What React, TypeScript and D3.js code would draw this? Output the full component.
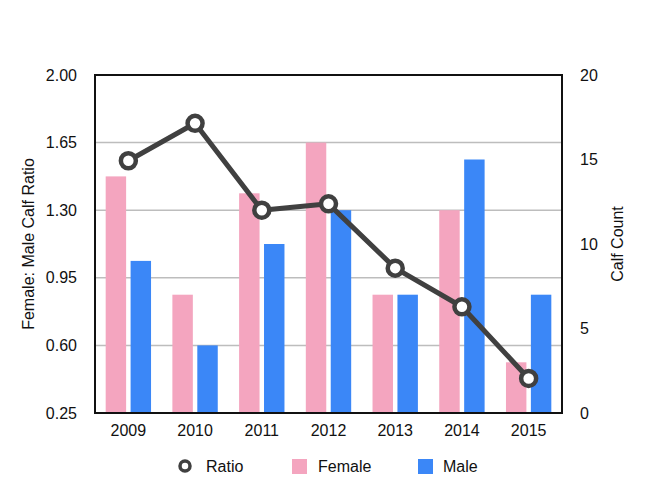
import React from "react";
import * as d3 from "d3";

const years = ["2009", "2010", "2011", "2012", "2013", "2014", "2015"];
const female = [14, 7, 13, 16, 7, 12, 3];
const male = [9, 4, 10, 12, 7, 15, 7];
const ratio = [1.556, 1.75, 1.3, 1.333, 1.0, 0.8, 0.429];
const leftTicks = [0.25, 0.6, 0.95, 1.3, 1.65, 2.0];
const rightTicks = [0, 5, 10, 15, 20];

const W = 650, H = 498;
const L = 95, R = 562, T = 75, B = 413;
const FONT = "Liberation Sans, Arial, Helvetica, sans-serif";
const FS = 16;
const PINK = "#F4A5BF";
const BLUE = "#3B87F7";
const DARK = "#404040";

export default function App() {
  const x = d3.scaleBand().domain(years).range([L, R]).paddingInner(0).paddingOuter(0);
  const yL = d3.scaleLinear().domain([0.25, 2.0]).range([B, T]);
  const yR = d3.scaleLinear().domain([0, 20]).range([B, T]);
  const bw = x.bandwidth();
  const pad = bw * 0.16;
  const gap = bw * 0.067;
  const barW = (bw - 2 * pad - gap) / 2;
  const line = d3.line<number>().x((_, i) => x(years[i])! + bw / 2).y((d) => yL(d));

  return (
    <svg width={W} height={H} style={{ position: "absolute", left: 0, top: 0 }} fontFamily={FONT}>
      <rect width={W} height={H} fill="#fff" />
      {leftTicks.slice(1, -1).map((t) => (
        <line key={t} x1={L} x2={R} y1={yL(t)} y2={yL(t)} stroke="#BDBDBD" strokeWidth={1.5} />
      ))}
      {years.map((yr, i) => (
        <g key={yr}>
          <rect x={x(yr)! + pad} y={yR(female[i])} width={barW} height={B - yR(female[i])} fill={PINK} />
          <rect x={x(yr)! + pad + barW + gap} y={yR(male[i])} width={barW} height={B - yR(male[i])} fill={BLUE} />
          <text x={x(yr)! + bw / 2} y={436} textAnchor="middle" fontSize={FS} fill="#111">{yr}</text>
        </g>
      ))}
      <rect x={L} y={T} width={R - L} height={B - T} fill="none" stroke="#111" strokeWidth={2} />
      <path d={line(ratio)!} fill="none" stroke={DARK} strokeWidth={5} strokeLinejoin="round" />
      {ratio.map((r, i) => (
        <circle key={i} cx={x(years[i])! + bw / 2} cy={yL(r)} r={7.5} fill="#fff" stroke={DARK} strokeWidth={4.5} />
      ))}
      {leftTicks.map((t) => (
        <text key={t} x={77} y={yL(t) + 5.5} textAnchor="end" fontSize={FS} fill="#111">{t.toFixed(2)}</text>
      ))}
      {rightTicks.map((t) => (
        <text key={t} x={580} y={yR(t) + 5.5} textAnchor="start" fontSize={FS} fill="#111">{t}</text>
      ))}
      <text transform={`translate(34,${(T + B) / 2}) rotate(-90)`} textAnchor="middle" fontSize={FS} fill="#111">Female: Male Calf Ratio</text>
      <text transform={`translate(623,${(T + B) / 2}) rotate(-90)`} textAnchor="middle" fontSize={FS} fill="#111">Calf Count</text>
      <g>
        <circle cx={185} cy={466} r={5} fill="#fff" stroke={DARK} strokeWidth={3.5} />
        <text x={206} y={471.5} fontSize={FS} fill="#111">Ratio</text>
        <rect x={292} y={459} width={15} height={15} fill={PINK} />
        <text x={318} y={471.5} fontSize={FS} fill="#111">Female</text>
        <rect x={418} y={459} width={15} height={15} fill={BLUE} />
        <text x={443} y={471.5} fontSize={FS} fill="#111">Male</text>
      </g>
    </svg>
  );
}
